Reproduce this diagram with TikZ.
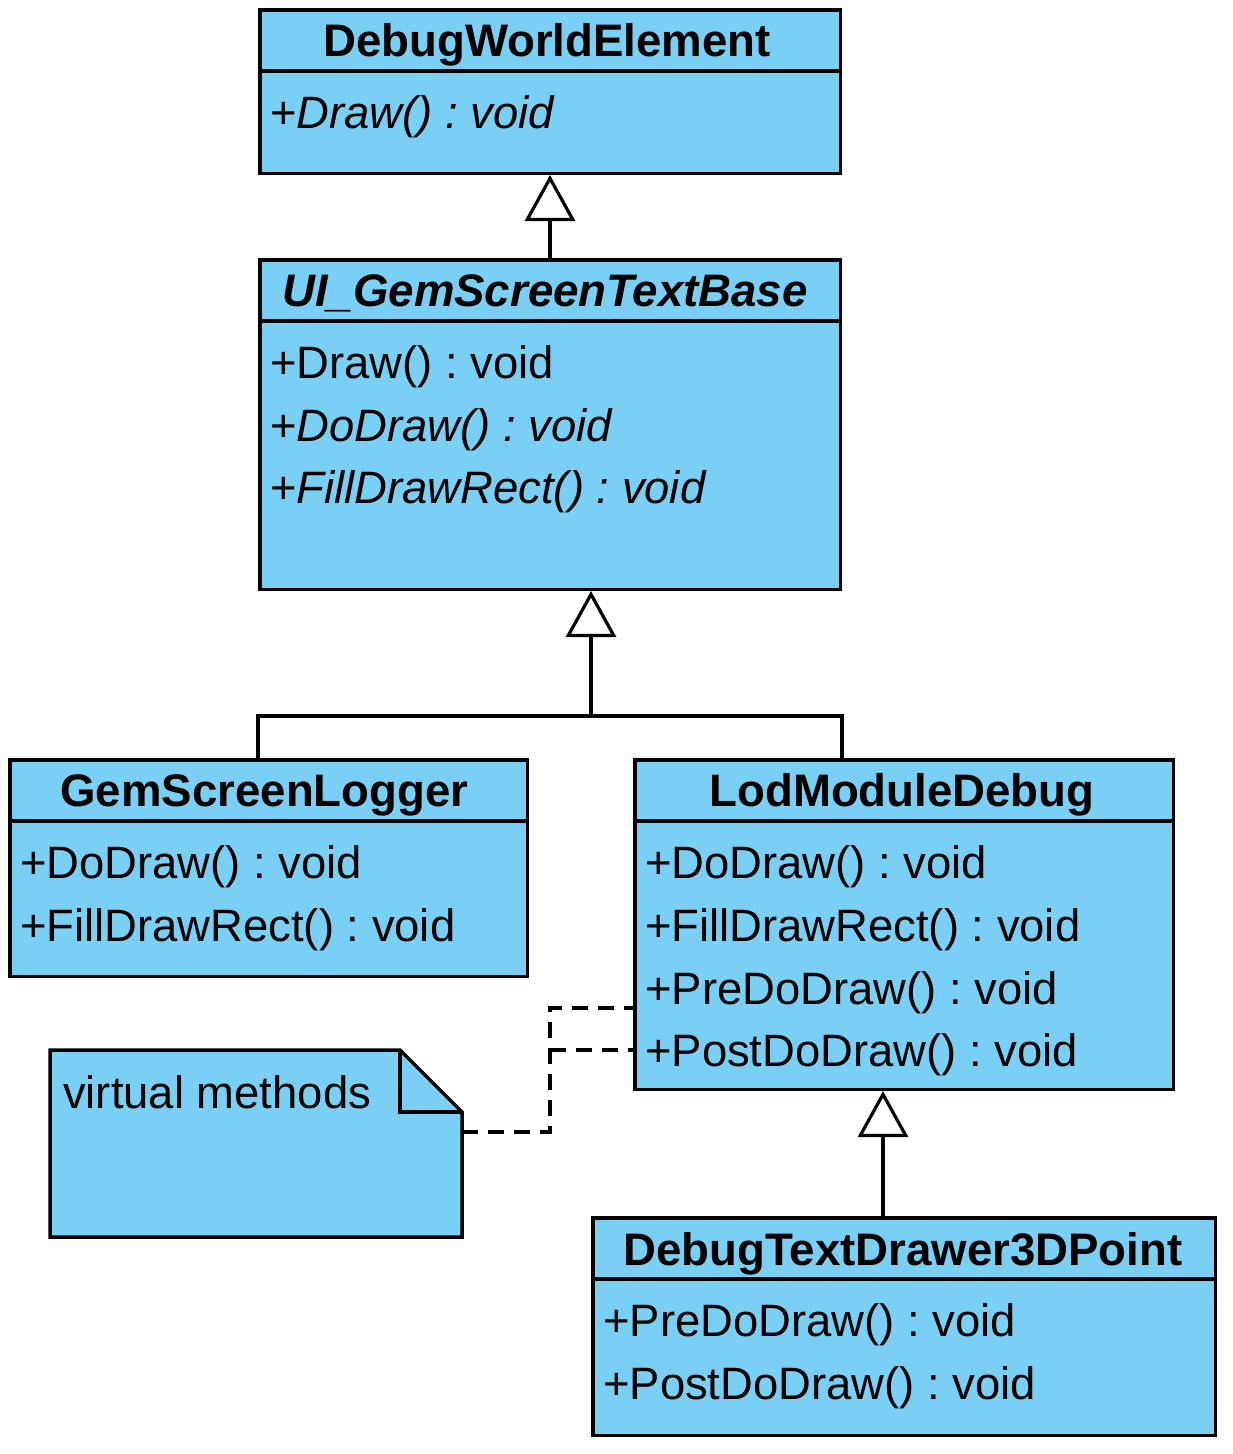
\documentclass[tikz,border=0pt]{standalone}
\usepackage{fontspec}
\setmainfont{Liberation Sans}
\usetikzlibrary{arrows.meta,calc}
\definecolor{umlblue}{RGB}{122,207,244}
\frenchspacing
\begin{document}
\begin{tikzpicture}[x=1pt,y=-1pt,
  cls/.style={draw, line width=3.5pt, fill=umlblue, inner sep=0pt},
  ttl/.style={font=\fontsize{45.6}{50}\selectfont\bfseries, anchor=base, inner sep=0pt},
  mth/.style={font=\fontsize{45.4}{52}\selectfont, anchor=base west, inner sep=0pt},
  sep/.style={line width=3.5pt},
  conn/.style={line width=3.2pt},
  gen/.style={conn, -{Triangle[open, length=46pt, width=50pt, line width=3.2pt]}},
  dsh/.style={line width=3.2pt, dash pattern=on 16pt off 10pt},
  notebox/.style={draw, line width=3.5pt, fill=umlblue, line join=miter}
]
\useasboundingbox (0,0) rectangle (1233,1454);

% DebugWorldElement
\node[cls, minimum width=580.5, minimum height=163.5] (dwe) at (550,91.5) {};
\draw[sep] ($(dwe.north west)+(0,63)$) -- ($(dwe.north east)+(0,63)$);
\node[ttl] (dwe-t) at ($(dwe.north)+(-3,48)$) {DebugWorldElement};
\node[mth] (dwe-m1) at ($(dwe.north west)+(12,120)$) {+\textit{Draw() : void}};

% UI_GemScreenTextBase
\node[cls, minimum width=580.5, minimum height=329.5] (ugstb) at (550,424.5) {};
\draw[sep] ($(ugstb.north west)+(0,63)$) -- ($(ugstb.north east)+(0,63)$);
\node[ttl] (ugstb-t) at ($(ugstb.north)+(-5,48)$) {\textit{UI\_GemScreenTextBase}};
\node[mth] (ugstb-m1) at ($(ugstb.north west)+(12,120)$) {+Draw() : void};
\node[mth] (ugstb-m2) at ($(ugstb.north west)+(12,183)$) {+\textit{DoDraw() : void}};
\node[mth] (ugstb-m3) at ($(ugstb.north west)+(12,245)$) {+\textit{FillDrawRect() : void}};

% GemScreenLogger
\node[cls, minimum width=517.5, minimum height=216.5] (gsl) at (268.5,868) {};
\draw[sep] ($(gsl.north west)+(0,63)$) -- ($(gsl.north east)+(0,63)$);
\node[ttl] (gsl-t) at ($(gsl.north)+(-4,48)$) {GemScreenLogger};
\node[mth] (gsl-m1) at ($(gsl.north west)+(12,120)$) {+DoDraw() : void};
\node[mth] (gsl-m2) at ($(gsl.north west)+(12,183)$) {+FillDrawRect() : void};

% LodModuleDebug
\node[cls, minimum width=538.5, minimum height=329.5] (lmd) at (904,924.5) {};
\draw[sep] ($(lmd.north west)+(0,63)$) -- ($(lmd.north east)+(0,63)$);
\node[ttl] (lmd-t) at ($(lmd.north)+(-2,48)$) {LodModuleDebug};
\node[mth] (lmd-m1) at ($(lmd.north west)+(12,120)$) {+DoDraw() : void};
\node[mth] (lmd-m2) at ($(lmd.north west)+(12,183)$) {+FillDrawRect() : void};
\node[mth] (lmd-m3) at ($(lmd.north west)+(12,246)$) {+PreDoDraw() : void};
\node[mth] (lmd-m4) at ($(lmd.north west)+(12,308)$) {+PostDoDraw() : void};

% DebugTextDrawer3DPoint
\node[cls, minimum width=622.5, minimum height=217.5] (dtd) at (904,1326.5) {};
\draw[sep] ($(dtd.north west)+(0,63)$) -- ($(dtd.north east)+(0,63)$);
\node[ttl] (dtd-t) at ($(dtd.north)+(-1,49)$) {DebugTextDrawer3DPoint};
\node[mth] (dtd-m1) at ($(dtd.north west)+(12,120)$) {+PreDoDraw() : void};
\node[mth] (dtd-m2) at ($(dtd.north west)+(12,183)$) {+PostDoDraw() : void};

% Note
\node[minimum width=412, minimum height=187, inner sep=0pt, outer sep=0pt] (note) at (256,1143.5) {};
\draw[notebox] (note.north west) -- ($(note.north east)+(-62,0)$) -- ($(note.north east)+(0,62)$)
  -- (note.south east) -- (note.south west) -- cycle;
\draw[notebox, fill=none] ($(note.north east)+(-62,0)$) |- ($(note.north east)+(0,62)$);
\node[mth] (note-t) at ($(note.north west)+(13,58)$) {virtual methods};

% Generalizations
\draw[gen] (ugstb.north) -- (dwe.south);
\coordinate (j) at (591,716);
\draw[conn] (ugstb.south west |- gsl.north) |- (j) -| (ugstb.south east |- lmd.north);
\draw[gen] (j) -- (j |- ugstb.south);
\coordinate (k) at (883,1150);
\draw[gen] (k |- dtd.north) -- (k |- lmd.south);

% Note anchors
\coordinate (b) at (550,1132);
\coordinate (r1) at (550,1008);
\coordinate (r2) at (550,1050);
\draw[dsh] (note.east |- b) -- (b) -- (r1) -- (lmd.west |- r1);
\draw[dsh] (r2) -- (lmd.west |- r2);
\end{tikzpicture}
\end{document}
